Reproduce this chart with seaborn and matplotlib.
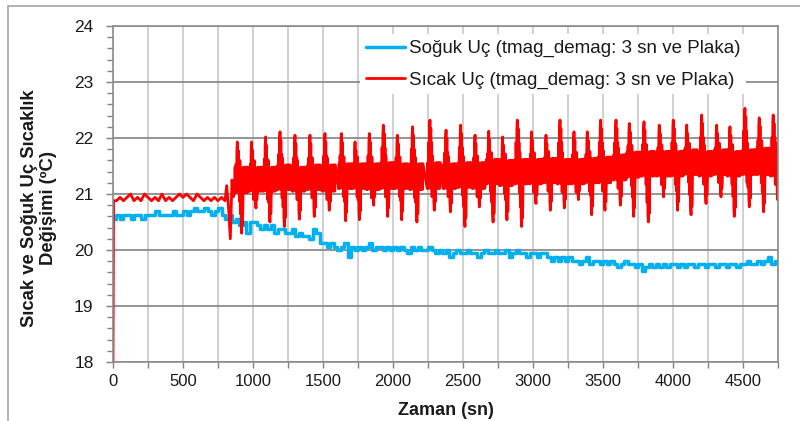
import numpy as np
import pandas as pd
import seaborn as sns
import matplotlib.pyplot as plt
from matplotlib.lines import Line2D

# soguk uc (blue), one reading every 25 sn from 0 to 4750
blue_step = 25
blue_v = [
    20.56, 20.62, 20.56, 20.62, 20.62, 20.56, 20.62, 20.62, 20.56, 20.62,
    20.62, 20.62, 20.69, 20.62, 20.62, 20.62, 20.62, 20.69, 20.62, 20.62,
    20.69, 20.62, 20.69, 20.75, 20.69, 20.69, 20.75, 20.69, 20.62, 20.69,
    20.75, 20.62, 20.56, 20.62, 20.50, 20.56, 20.44, 20.50, 20.31, 20.50,
    20.50, 20.44, 20.38, 20.44, 20.38, 20.44, 20.31, 20.38, 20.38, 20.31,
    20.31, 20.38, 20.25, 20.31, 20.25, 20.25, 20.19, 20.38, 20.31, 20.12,
    20.12, 20.06, 20.12, 20.06, 20.00, 20.06, 20.12, 19.88, 20.06, 20.00,
    20.06, 20.00, 20.06, 20.12, 20.00, 20.06, 20.06, 20.00, 20.06, 20.00,
    20.06, 20.00, 20.06, 20.00, 19.94, 20.06, 20.00, 20.06, 20.00, 20.00,
    20.06, 20.00, 19.94, 20.00, 19.94, 20.00, 19.88, 19.94, 20.00, 19.94,
    19.94, 20.00, 19.94, 19.94, 19.88, 19.94, 20.00, 19.94, 19.94, 20.00,
    19.94, 19.94, 20.00, 19.88, 19.94, 20.00, 19.94, 19.94, 19.88, 19.94,
    19.94, 19.88, 19.94, 19.94, 19.88, 19.81, 19.88, 19.81, 19.88, 19.81,
    19.88, 19.81, 19.81, 19.75, 19.81, 19.88, 19.75, 19.81, 19.81, 19.75,
    19.81, 19.75, 19.81, 19.75, 19.69, 19.75, 19.81, 19.75, 19.75, 19.69,
    19.75, 19.62, 19.69, 19.75, 19.69, 19.75, 19.69, 19.75, 19.69, 19.75,
    19.75, 19.69, 19.75, 19.69, 19.75, 19.75, 19.69, 19.75, 19.75, 19.69,
    19.75, 19.75, 19.69, 19.75, 19.75, 19.69, 19.75, 19.75, 19.69, 19.75,
    19.75, 19.81, 19.75, 19.75, 19.81, 19.75, 19.81, 19.88, 19.75, 19.81,
    19.81,
]

# sicak uc (red) before the spikes start
red_pre_t = [0, 4] + list(range(25, 800, 25)) + [800, 812, 824, 838, 850, 860]
red_pre_v = [
    18.0, 20.88,
    20.88, 20.94, 20.88, 20.94, 21.00, 20.88, 20.94, 20.88, 21.00, 20.94,
    20.88, 20.94, 20.88, 21.00, 20.88, 20.94, 20.88, 20.94, 21.00, 20.94,
    21.00, 20.94, 20.88, 21.00, 20.94, 20.88, 20.94, 20.88, 20.94, 20.88,
    20.94,
    20.88, 21.15, 20.80, 20.20, 21.25, 20.95,
]

# one row per spike cycle: peak time, peak, trough, band low, band high
red_peak_t = [888, 990, 1090, 1193, 1300, 1407, 1514, 1631, 1729, 1831,
              1931, 2031, 2140, 2264, 2379, 2483, 2586, 2684, 2783, 2888,
              2990, 3093, 3193, 3293, 3388, 3483, 3593, 3688, 3793, 3902,
              4002, 4098, 4205, 4312, 4407, 4514, 4616, 4716]
red_peak = [21.93, 21.93, 22.02, 22.11, 22.05, 22.05, 22.08, 22.08, 21.93, 22.08,
            22.23, 22.05, 22.20, 22.32, 22.14, 22.23, 22.05, 22.12, 22.02, 22.32,
            22.11, 22.05, 22.32, 22.11, 22.11, 22.32, 22.32, 22.26, 22.29, 22.23,
            22.32, 22.23, 22.41, 22.23, 22.20, 22.53, 22.36, 22.41]
red_trough = [20.30, 20.75, 20.50, 20.42, 20.55, 20.60, 20.71, 20.52, 20.54, 20.80,
              20.60, 20.54, 20.50, 20.71, 20.68, 20.42, 20.77, 20.50, 20.54, 20.42,
              20.83, 20.71, 20.75, 20.90, 20.63, 20.71, 20.80, 20.60, 20.50, 20.95,
              20.71, 20.63, 20.83, 20.95, 20.60, 20.77, 20.68, 20.90]
red_lo = [21.02, 21.05, 21.05, 21.08, 21.05, 21.08, 21.05, 21.10, 21.10, 21.08,
          21.10, 21.10, 21.08, 21.10, 21.10, 21.12, 21.10, 21.18, 21.15, 21.18,
          21.18, 21.20, 21.18, 21.18, 21.20, 21.20, 21.25, 21.30, 21.32, 21.32,
          21.32, 21.35, 21.32, 21.35, 21.32, 21.35, 21.35, 21.32]
red_hi = [21.48, 21.48, 21.48, 21.52, 21.48, 21.52, 21.52, 21.54, 21.54, 21.54,
          21.56, 21.54, 21.54, 21.56, 21.54, 21.56, 21.56, 21.62, 21.60, 21.62,
          21.62, 21.64, 21.62, 21.62, 21.64, 21.66, 21.70, 21.75, 21.76, 21.76,
          21.76, 21.79, 21.76, 21.79, 21.76, 21.79, 21.82, 21.79]

x_ticks = list(range(0, 4751, 250))
y_ticks = [18, 19, 20, 21, 22, 23, 24]

lbl_cold = 'Soğuk Uç (tmag_demag: 3 sn ve Plaka)'
lbl_hot = 'Sıcak Uç (tmag_demag: 3 sn ve Plaka)'

# sample order inside one cycle (seconds from the peak) and which reading goes there
cyc_off = [-20, -16, -12, -9, -6, -3, 0, 3, 6, 9, 12, 15, 18, 22, 25, 28,
           31, 34, 37, 41, 45, 50, 55, 60, 65, 70, 74]
cyc_key = ['lo', 'hi', 'lo', 'P--', 'lo+', 'P-', 'P', 'hi', 'P-', 'lo',
           'P--', 'lo-', 'hi+', 'T++', 'hi', 'T+', 'T', 'hi-', 'T+', 'lo',
           'hi', 'lo', 'hi', 'lo', 'hi', 'lo', 'hi']

red_t = list(red_pre_t)
red_v = list(red_pre_v)
for tp, p, tr, lo, hi in zip(red_peak_t, red_peak, red_trough, red_lo, red_hi):
    vals = {'lo': lo, 'lo+': lo + 0.1, 'lo-': lo - 0.15,
            'hi': hi, 'hi+': hi + 0.12, 'hi-': hi - 0.1,
            'P': p, 'P-': p - 0.15, 'P--': p - 0.4,
            'T': tr, 'T+': tr + 0.15, 'T++': tr + 0.35}
    for off, key in zip(cyc_off, cyc_key):
        red_t.append(tp + off)
        red_v.append(vals[key])

blue = pd.DataFrame({'t': np.arange(len(blue_v)) * blue_step, 'v': blue_v})
red = pd.DataFrame({'t': red_t, 'v': red_v})

sns.set_theme(style='white')
plt.rcParams['font.family'] = ['Liberation Sans', 'DejaVu Sans']
narrow = ['Liberation Sans Narrow', 'Liberation Sans', 'DejaVu Sans']

fig = plt.figure(figsize=(8, 4.21), dpi=100)
ax = fig.add_axes([113 / 800, 59 / 421, 665 / 800, 336 / 421])

sns.lineplot(data=blue, x='t', y='v', ax=ax, color='#00B0F0', lw=2.5,
             drawstyle='steps-post', estimator=None, sort=False, label=lbl_cold)
sns.lineplot(data=red, x='t', y='v', ax=ax, color='#FF0000', lw=2.0,
             estimator=None, sort=False, label=lbl_hot)

ax.set_xlim(0, 4750)
ax.set_ylim(18, 24)
ax.set_xticks(x_ticks)
ax.set_xticklabels([str(t) if t % 500 == 0 else '' for t in x_ticks],
                   family=narrow, fontsize=12, color='#1a1a1a')
ax.set_yticks(y_ticks)
ax.set_yticklabels([str(y) for y in y_ticks], family=narrow, fontsize=12.5,
                   color='#1a1a1a')
ax.set_yticks(np.arange(18, 24.01, 0.2), minor=True)
ax.tick_params(axis='y', which='major', left=True, length=5, width=1,
               color='#808080', pad=9)
ax.tick_params(axis='y', which='minor', left=True, length=4, width=1,
               color='#808080')
ax.tick_params(axis='x', which='major', bottom=True, length=4, width=1,
               color='#808080', pad=5)

ax.grid(axis='y', which='major', color='#8c8c8c', lw=1.3)
ax.grid(axis='x', which='major', color='#c8c8c8', lw=1.2)
ax.set_axisbelow(True)
for s in ax.spines.values():
    s.set_color('#8c8c8c')
    s.set_linewidth(1.2)

ax.set_xlabel('Zaman (sn)', fontsize=13, fontweight='bold', color='#1a1a1a',
              labelpad=9)
ax.set_ylabel('')
fig.text(39 / 800, 1 - 208 / 421, 'Sıcak ve Soğuk Uç Sıcaklık\nDeğişimi (ºC)',
         rotation=90, ha='center', va='center', multialignment='center',
         fontsize=13.3, fontweight='bold', color='#1a1a1a', linespacing=1.1)

leg = ax.legend(loc='upper left', bbox_to_anchor=(0.372, 0.975), fontsize=13.5,
                frameon=True, fancybox=False, framealpha=1, edgecolor='none',
                facecolor='white', handlelength=2.1, handletextpad=0.2,
                labelspacing=0.75, borderpad=0.3, borderaxespad=0)
for t in leg.get_texts():
    t.set_color('#1a1a1a')

# outer chart frame
fig.add_artist(Line2D([8 / 800, 8 / 800], [0, 1 - 6 / 421], color='#a6a6a6',
                      lw=1.2, transform=fig.transFigure))
fig.add_artist(Line2D([8 / 800, 1], [1 - 6 / 421, 1 - 6 / 421], color='#a6a6a6',
                      lw=1.2, transform=fig.transFigure))

fig.savefig('out.png', dpi=100)
